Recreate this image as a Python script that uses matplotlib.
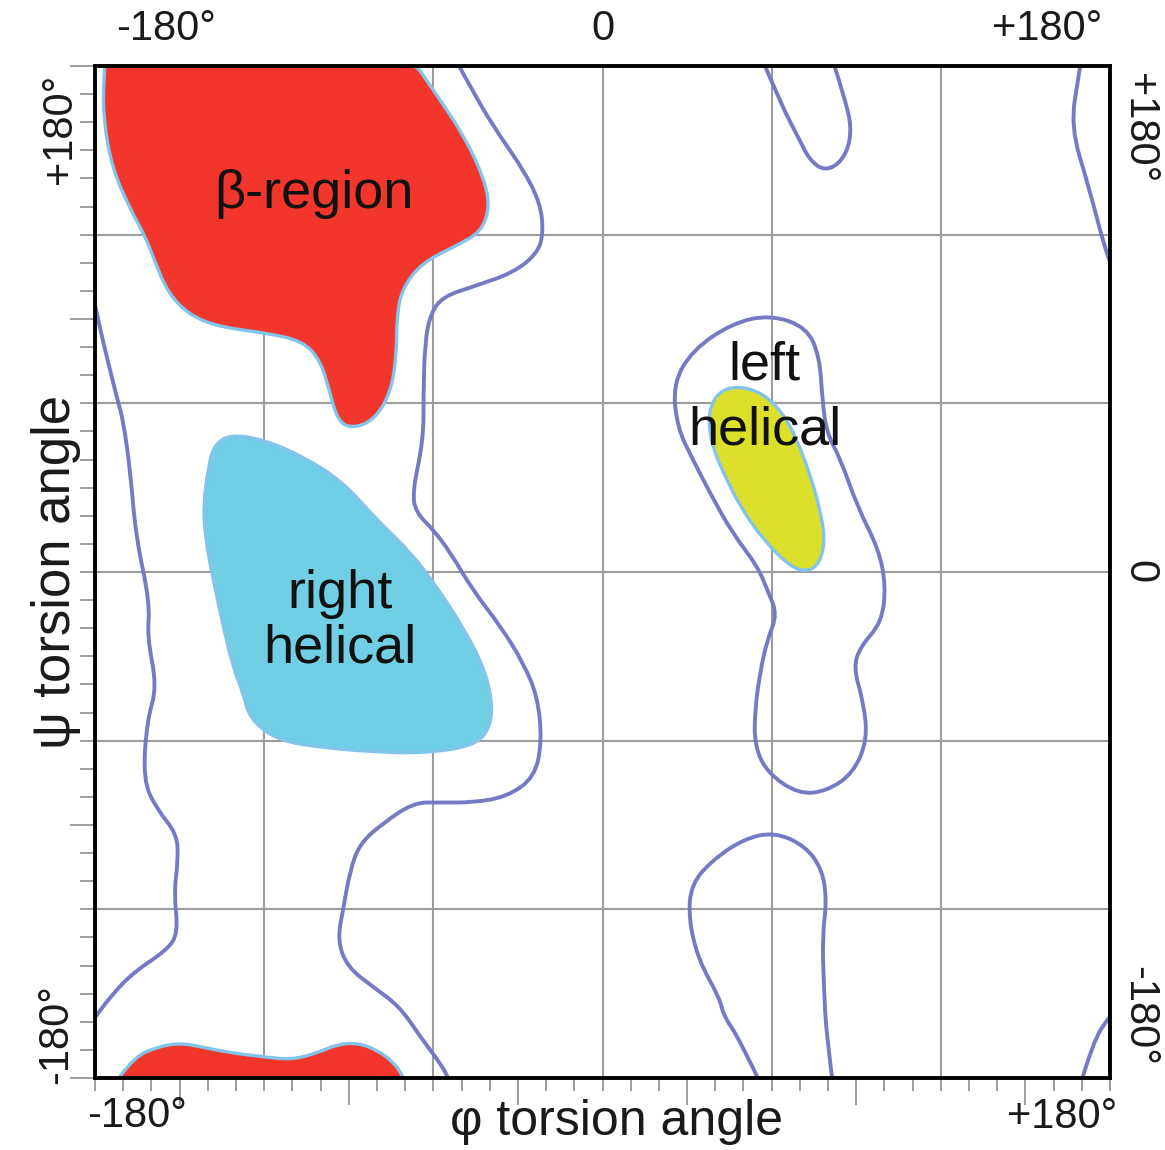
import matplotlib
matplotlib.use("Agg")
import matplotlib.pyplot as plt
import numpy as np
from matplotlib.patches import PathPatch
from matplotlib.path import Path

plt.rcParams["font.family"] = ["Liberation Sans", "DejaVu Sans"]

# outlines as (phi, psi) in degrees; points past +-180 get clipped by the frame
beta_phi = [-176, -70, -59, -49, -42, -40, -43, -52, -64, -71, -73, -73, -75, -81, -89, -94, -97, -100,
            -106, -119, -135, -146, -154, -159, -162, -168, -174, -177, -177]
beta_psi = [186, 186, 170, 155, 140, 130, 121, 116, 110, 101, 91, 78, 64, 54, 51, 54, 65, 75,
            82, 85, 87, 91, 99, 111, 119, 130, 144, 161, 174]

beta_low_phi = [-176, -166, -158, -150, -142, -132, -120, -110, -101, -94, -87, -80, -74, -71, -68]
beta_low_psi = [-186, -172.5, -169, -167.5, -169, -171, -172.5, -173.5, -171, -168, -167.5, -170, -174.5, -179, -186]

right_phi = [-132, -120, -106, -92, -80, -68, -59, -49.5, -42, -39, -40, -46, -64, -81, -99, -115, -125,
             -127.5, -131, -134.5, -138, -141, -141.5, -140, -138]
right_psi = [49, 47, 41, 32, 18.5, 7, -5, -19.5, -34, -46.5, -56, -62, -64.5, -64, -62.5, -60, -52.5,
             -43, -34, -19.5, -3, 12.5, 24.5, 36, 45]

left_phi = [49, 57, 64, 69, 73.5, 77, 79, 77, 72.5, 66.5, 57, 49, 43, 39, 37.5, 39, 43]
left_psi = [66, 63.5, 56.5, 47, 35, 23, 11.5, 3, 0, 2, 11.5, 23, 35, 44.5, 54, 61, 65]

# allowed-region contours (open ones run off the frame)
edge_l_phi = [-181, -179, -172, -170, -167.5, -165.5, -160.5, -161.5, -158, -161.5, -163, -158, -151,
              -150.5, -152, -150.5, -154.5, -166.5, -174.5, -180, -182]
edge_l_psi = [100, 89.5, 61, 54, 36, 12.5, -11, -23, -41, -52.5, -74, -84.5, -93,
              -102.5, -114, -128.5, -134.5, -142.5, -151, -158.5, -161]

outer_phi = [-53, -44.5, -36, -28, -22, -21, -23, -31.5, -46, -56.5, -61, -63, -63.5, -63.5, -67.5, -66,
             -60, -54, -46, -36, -28, -23, -21.5, -24, -34, -46, -57.5, -67, -78, -86, -89.5, -92, -94,
             -90.5, -81.5, -72, -64.5, -58.5, -55, -53]
outer_psi = [184, 168, 154.5, 143, 131, 120.5, 113.5, 106.5, 101.5, 98, 92, 81.5, 63.5, 47, 28, 21,
             15, 7, -6.5, -19.5, -32.5, -44.5, -60, -73, -80, -82, -82, -82, -89.5, -96.5, -106, -120, -131,
             -140.5, -147.5, -154.5, -165.5, -173.5, -179, -184]

top_loop_phi = [56, 63, 70, 73.5, 79, 85.5, 88.5, 86.5, 81]
top_loop_psi = [184, 167, 153.5, 146.5, 142.5, 146.5, 156, 167, 184]

lh_loop_phi = [59.5, 46, 32, 25, 26.5, 32, 39, 46, 55, 58.5, 62, 58.5, 56, 54, 54, 58.5, 69.5, 79.5, 89,
               94, 92.5, 89, 91.5, 99, 100.5, 98, 90.5, 84.5, 79.5, 78, 77, 72.5]
lh_loop_psi = [91.5, 88.5, 79, 67, 51.5, 40, 26.5, 14, 2, -6.5, -15, -24, -35, -49.5, -62, -71.5, -79,
               -78, -71.5, -59.5, -46, -34, -26.5, -18, -5, 8, 23, 40, 49.5, 61, 76.5, 87]

low_loop_phi = [57, 48.5, 43, 41.5, 34, 30.5, 31.5, 39, 50, 61, 72, 78, 79.5, 78, 78.5, 79.5, 82]
low_loop_psi = [-184, -166, -158, -151.5, -138, -123, -111, -102.5, -95, -92.5, -97.5, -106, -117,
                -129.5, -147.5, -166, -184]

edge_rt_phi = [170, 169, 166, 172.5, 179.5, 183]
edge_rt_psi = [184, 177, 158.5, 137, 110, 103]

edge_rb_phi = [169, 174, 179.5, 183]
edge_rb_psi = [-184, -167, -158.5, -154]

grid_deg = [-120, -60, 0, 60, 120]
x_long_ticks = [-150, -90, -30, 30, 90, 150]
y_long_ticks = [-180, -90, 90, 180]
minor_ticks = np.arange(-180, 181, 10)

top_labels = ["-180°", "0", "+180°"]
side_labels = ["+180°", "0", "-180°"]
bottom_labels = ["-180°", "+180°"]

RED = "#F2362C"
CYAN = "#70CFE5"
YELLOW = "#DCE02A"
RIM = "#82C4EA"
CONTOUR = "#7679C4"


def smooth_path(phi, psi, closed):
    pts = np.column_stack([phi, psi]).astype(float)
    n = len(pts)
    if closed:
        mids = (pts + np.roll(pts, -1, axis=0)) / 2
        verts, codes = [mids[-1]], [Path.MOVETO]
        for p, m in zip(pts, mids):
            verts += [p, m]
            codes += [Path.CURVE3, Path.CURVE3]
        verts.append(mids[-1])
        codes.append(Path.CLOSEPOLY)
    else:
        verts, codes = [pts[0]], [Path.MOVETO]
        for i in range(1, n - 1):
            end = pts[i + 1] if i == n - 2 else (pts[i] + pts[i + 1]) / 2
            verts += [pts[i], end]
            codes += [Path.CURVE3, Path.CURVE3]
    return Path(verts, codes)


W, H = 1165, 1150
fig = plt.figure(figsize=(W / 100, H / 100), dpi=100)
ax = fig.add_axes([95 / W, (H - 1078) / H, 1015 / W, 1012 / H])
ax.set_xlim(-180, 180)
ax.set_ylim(-180, 180)

for g in grid_deg:
    ax.axvline(g, color="#9c9c9c", lw=1.5, zorder=0.5)
    ax.axhline(g, color="#9c9c9c", lw=1.5, zorder=0.5)

for phi, psi, face in [(beta_phi, beta_psi, RED), (beta_low_phi, beta_low_psi, RED),
                       (right_phi, right_psi, CYAN), (left_phi, left_psi, YELLOW)]:
    ax.add_patch(PathPatch(smooth_path(phi, psi, True), facecolor=face, edgecolor=RIM,
                           lw=2.4, zorder=2))

for phi, psi, closed in [(edge_l_phi, edge_l_psi, False), (outer_phi, outer_psi, False),
                         (top_loop_phi, top_loop_psi, False), (lh_loop_phi, lh_loop_psi, True),
                         (low_loop_phi, low_loop_psi, False), (edge_rt_phi, edge_rt_psi, False),
                         (edge_rb_phi, edge_rb_psi, False)]:
    ax.add_patch(PathPatch(smooth_path(phi, psi, closed), fill=False, edgecolor=CONTOUR,
                           lw=2.8, capstyle="round", zorder=3))

ax.set_xticks(x_long_ticks)
ax.set_xticks(minor_ticks, minor=True)
ax.set_yticks(y_long_ticks)
ax.set_yticks(minor_ticks, minor=True)
ax.tick_params(axis="x", which="major", direction="out", length=19.5, width=1.2, color="#8c8c8c",
               labelbottom=False)
ax.tick_params(axis="x", which="minor", direction="out", length=9.5, width=1.2, color="#8c8c8c")
ax.tick_params(axis="y", which="major", direction="out", length=18, width=1.2, color="#8c8c8c",
               labelleft=False)
ax.tick_params(axis="y", which="minor", direction="out", length=11, width=1.2, color="#8c8c8c")
for sp in ax.spines.values():
    sp.set_linewidth(2.8)
    sp.set_color("black")
    sp.set_zorder(5)

region_kw = dict(ha="center", va="center", fontsize=39, color="#111111", zorder=4)
ax.text(-102.3, 134.5, "β-region", **region_kw)
ax.text(-93, -7.8, "right", **region_kw)
ax.text(-93, -27.2, "helical", **region_kw)
ax.text(57.6, 73.6, "left", **region_kw)
ax.text(57.6, 50.2, "helical", **region_kw)


def px_text(x, y, s, size, rot=0):
    fig.text(x / W, 1 - y / H, s, ha="center", va="center", fontsize=size, rotation=rot,
             color="#1a1a1a")


for x, s in zip([166, 603, 1047], top_labels):
    px_text(x, 29, s, 30)
for y, s in zip([128, 572, 1016], side_labels):
    px_text(1139, y, s, 30, rot=-90)
px_text(60, 129, "+180°", 30, rot=90)
px_text(56, 1034, "-180°", 30, rot=90)
px_text(56, 572, "ψ torsion angle", 38, rot=90)
px_text(137, 1116, bottom_labels[0], 30)
px_text(1062, 1117, bottom_labels[1], 30)
px_text(617, 1122, "φ torsion angle", 36)

fig.savefig("out.png", dpi=100, facecolor="white")
